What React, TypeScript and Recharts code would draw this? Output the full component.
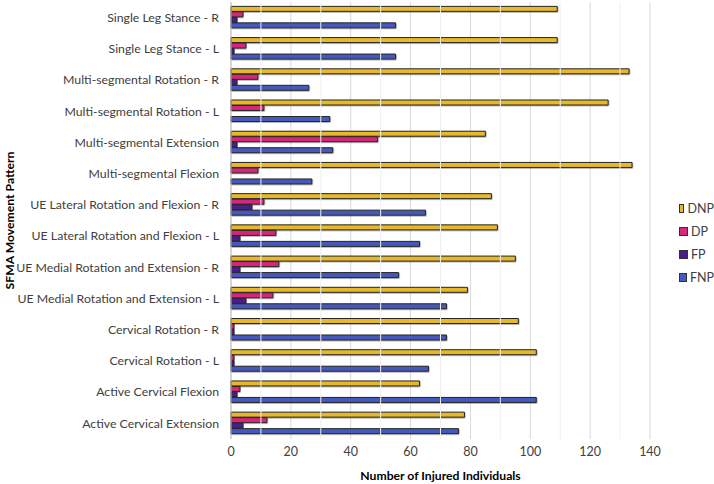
import React from "react";
import { Bar, BarChart, CartesianGrid, Legend, ReferenceLine, XAxis, YAxis } from "recharts";

const categories = [
  "Single Leg Stance - R",
  "Single Leg Stance - L",
  "Multi-segmental Rotation - R",
  "Multi-segmental Rotation - L",
  "Multi-segmental Extension",
  "Multi-segmental Flexion",
  "UE Lateral Rotation and Flexion - R",
  "UE Lateral Rotation and Flexion - L",
  "UE Medial Rotation and Extension - R",
  "UE Medial Rotation and Extension - L",
  "Cervical Rotation - R",
  "Cervical Rotation - L",
  "Active Cervical Flexion",
  "Active Cervical Extension",
];

const dnp = [109, 109, 133, 126, 85, 134, 87, 89, 95, 79, 96, 102, 63, 78];
const dp = [4, 5, 9, 11, 49, 9, 11, 15, 16, 14, 1, 1, 3, 12];
const fp = [2, 1, 2, 0, 2, 0, 7, 3, 3, 5, 1, 1, 2, 4];
const fnp = [55, 55, 26, 33, 34, 27, 65, 63, 56, 72, 72, 66, 102, 76];

const majorTicks = [0, 20, 40, 60, 80, 100, 120, 140];
const minorTicks = [10, 30, 50, 70, 90, 110, 130];

const data = categories.map((name, i) => ({
  name,
  DNP: dnp[i],
  DP: dp[i],
  FP: fp[i],
  FNP: fnp[i],
}));

const FONT = "Lato, 'Open Sans', sans-serif";

const series = [
  { key: "DNP", color: "#E7B82A" },
  { key: "DP", color: "#D6287C" },
  { key: "FP", color: "#4B1E8E" },
  { key: "FNP", color: "#4659BC" },
];

function CategoryTick(props: any) {
  const { x, y, payload } = props;
  return (
    <text x={x} y={y} dy={4.3} textAnchor="end" fontSize={12.3} fill="#404040" fontFamily={FONT}>
      {payload.value}
    </text>
  );
}

function LegendBox() {
  return (
    <div style={{ paddingLeft: 29, fontFamily: FONT, fontSize: 12.5, color: "#404040" }}>
      {series.map((s) => (
        <div key={s.key} style={{ display: "flex", alignItems: "center", height: 23 }}>
          <span
            style={{
              display: "inline-block",
              width: 7,
              height: 7,
              background: s.color,
              border: "1px solid #333",
              marginRight: 3,
            }}
          />
          {s.key}
        </div>
      ))}
    </div>
  );
}

export default function App() {
  return (
    <div>
      <style>{`body{margin:0}`}</style>
      <BarChart
        width={714}
        height={484}
        data={data}
        layout="vertical"
        margin={{ top: 2, right: 0, bottom: 0, left: 0 }}
        barCategoryGap="14%"
        barGap={0.5}
      >
        <defs>
          <filter id="shadow" x="-5%" y="-20%" width="110%" height="160%">
            <feDropShadow dx="0.6" dy="0.8" stdDeviation="0.6" floodColor="#000" floodOpacity="0.35" />
          </filter>
        </defs>
        <CartesianGrid horizontal={false} stroke="#d9d9d9" />
        {minorTicks.map((v) => (
          <ReferenceLine key={v} x={v} stroke="#f0f0f0" />
        ))}
        <XAxis
          type="number"
          domain={[0, 140]}
          ticks={majorTicks}
          axisLine={false}
          tickLine={false}
          height={45}
          tick={{ fontSize: 12.5, fill: "#404040", fontFamily: FONT }}
          label={{
            value: "Number of Injured Individuals",
            position: "insideBottom",
            offset: 4,
            style: { fontSize: 12.2, fontWeight: 700, fill: "#000", fontFamily: FONT },
          }}
        />
        <YAxis
          type="category"
          dataKey="name"
          width={231}
          axisLine={{ stroke: "#bfbfbf" }}
          tickLine={false}
          tickMargin={6}
          interval={0}
          tick={<CategoryTick />}
          label={{
            value: "SFMA Movement Pattern",
            angle: -90,
            position: "insideLeft",
            offset: 10,
            style: { textAnchor: "middle", fontSize: 12.2, fontWeight: 700, fill: "#000", fontFamily: FONT },
          }}
        />
        <Legend
          layout="vertical"
          align="right"
          verticalAlign="middle"
          content={<LegendBox />}
          wrapperStyle={{ width: 64, right: 0, top: 197 }}
        />
        {series.map((s) => (
          <Bar
            key={s.key}
            dataKey={s.key}
            fill={s.color}
            stroke="#262626"
            strokeWidth={1}
            isAnimationActive={false}
            style={{ filter: "url(#shadow)" }}
          />
        ))}
      </BarChart>
    </div>
  );
}
